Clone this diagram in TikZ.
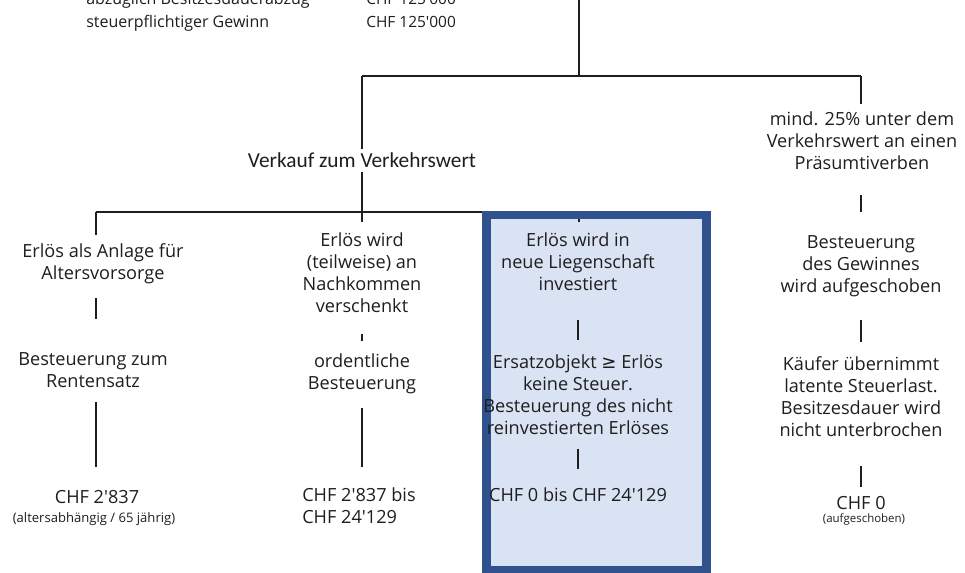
\documentclass[tikz,border=0pt]{standalone}
\usepackage{fontspec}
\newfontfamily\os{Open Sans}
\newfontfamily\calibri{Carlito}
\newfontfamily\djv{DejaVu Sans}
\definecolor{txtc}{RGB}{30,30,30}
\definecolor{boxborder}{RGB}{47,82,143}
\definecolor{boxfill}{RGB}{218,227,243}
\tikzset{
  txt/.style={align=center, inner sep=0pt, text=txtc, font=\os\fontsize{13.6}{16.5}\selectfont},
  small/.style={align=center, inner sep=0pt, text=txtc, font=\os\fontsize{9.8}{11}\selectfont},
  topbig/.style={inner sep=0pt, text=txtc, font=\os\fontsize{12}{14}\selectfont},
  topsmall/.style={inner sep=0pt, text=txtc, font=\os\fontsize{11.6}{14}\selectfont},
  conn/.style={draw=txtc, line width=0.9pt},
}
\begin{document}
\begin{tikzpicture}[x=0.75pt,y=-0.75pt]
\useasboundingbox (0,0) rectangle (965,572);
\clip (0,0) rectangle (965,572);
% top texts (partly cut)
\node[topbig, anchor=base west] (t0) at (86,4) {abzüglich Besitzesdauerabzug};
\node[topsmall, anchor=base west] (t0b) at (366,4) {CHF 125'000};
\node[topbig, anchor=base west] (t1) at (86,27) {steuerpflichtiger Gewinn};
\node[topsmall, anchor=base west] (t1b) at (366,27) {CHF 125'000};
% coordinates
\coordinate (top) at (579,0);
\coordinate (hA) at (362,76);
\coordinate (hM) at (579,76);
\coordinate (hB) at (861,76);
% level 1
\node[txt, font=\calibri\fontsize{16}{18}\selectfont] (vk) at (362,160) {Verkauf zum Verkehrswert};
\node[txt] (mind) at (862,141) {mind. 25\% unter dem\\Verkehrswert an einen\\Präsumtiverben};
% box
\fill[boxfill] (486.5,215) rectangle (706.5,570);
% level 2 horizontal
\coordinate (h2a) at (96,212);
\coordinate (h2b) at (362,212);
\coordinate (h2c) at (579,212);
\draw[conn] (h2a) -- (h2c);
\coordinate (c3t) at (579,222);
\draw[conn] (h2c) -- (c3t);
\draw[draw=boxborder, line width=6.4pt] (486.5,215) rectangle (706.5,570);
% level 1 connectors
\draw[conn] (top) -- (hM);
\draw[conn] (hA) -- (hB);
\coordinate (vkt) at (362,149);
\draw[conn] (hA) -- (vkt);
\coordinate (vkb) at (362,172);
\coordinate (c2t) at (362,222);
\draw[conn] (vkb) -- (c2t);
\coordinate (mt) at (861,104);
\draw[conn] (hB) -- (mt);
% column 1
\node[txt] (c1a) at (103,264) {Erlös als Anlage für\\Altersvorsorge};
\node[txt] (c1b) at (93,370) {Besteuerung zum\\Rentensatz};
\node[txt] (c1c) at (97,497) {CHF 2'837};
\node[small] (c1d) at (94,519) {(altersabhängig / 65 jährig)};
\coordinate (c1t) at (96,235);
\draw[conn] (h2a) -- (c1t);
\coordinate (c1l1a) at (96,298); \coordinate (c1l1b) at (96,319);
\draw[conn] (c1l1a) -- (c1l1b);
\coordinate (c1l2a) at (96,402); \coordinate (c1l2b) at (96,467);
\draw[conn] (c1l2a) -- (c1l2b);
% column 2
\node[txt] (c2a) at (362,273) {Erlös wird\\(teilweise) an\\Nachkommen\\verschenkt};
\node[txt] (c2b) at (362,374) {ordentliche\\Besteuerung};
\node[txt, align=left, anchor=west] (c2c) at (302,506) {CHF 2'837 bis\\CHF 24'129};
\coordinate (c2l1a) at (362,334); \coordinate (c2l1b) at (362,341);
\draw[conn] (c2l1a) -- (c2l1b);
\coordinate (c2l2a) at (362,408); \coordinate (c2l2b) at (362,467);
\draw[conn] (c2l2a) -- (c2l2b);
% column 3 (box)
\node[txt] (c3a) at (578,262) {Erlös wird in\\neue Liegenschaft\\investiert};
\node[txt] (c3b) at (578,395) {Ersatzobjekt {\djv ≥} Erlös\\keine Steuer.\\Besteuerung des nicht\\reinvestierten Erlöses};
\node[txt] (c3c) at (578,495) {CHF 0 bis CHF 24'129};
\coordinate (c3l1a) at (578,320); \coordinate (c3l1b) at (578,340);
\draw[conn] (c3l1a) -- (c3l1b);
\coordinate (c3l2a) at (578,449); \coordinate (c3l2b) at (578,469);
\draw[conn] (c3l2a) -- (c3l2b);
% column 5
\node[txt] (c5a) at (861,266) {Besteuerung\\des Gewinnes\\wird aufgeschoben};
\node[txt] (c5b) at (861,397) {Käufer übernimmt\\latente Steuerlast.\\Besitzesdauer wird\\nicht unterbrochen};
\node[txt] (c5c) at (861,503) {CHF 0};
\node[small, font=\os\fontsize{8.6}{10}\selectfont] (c5d) at (864,519) {(aufgeschoben)};
\coordinate (c5l0a) at (861,195); \coordinate (c5l0b) at (861,212);
\draw[conn] (c5l0a) -- (c5l0b);
\coordinate (c5l1a) at (861,320); \coordinate (c5l1b) at (861,342);
\draw[conn] (c5l1a) -- (c5l1b);
\coordinate (c5l2a) at (861,466); \coordinate (c5l2b) at (861,487);
\draw[conn] (c5l2a) -- (c5l2b);
\end{tikzpicture}
\end{document}
